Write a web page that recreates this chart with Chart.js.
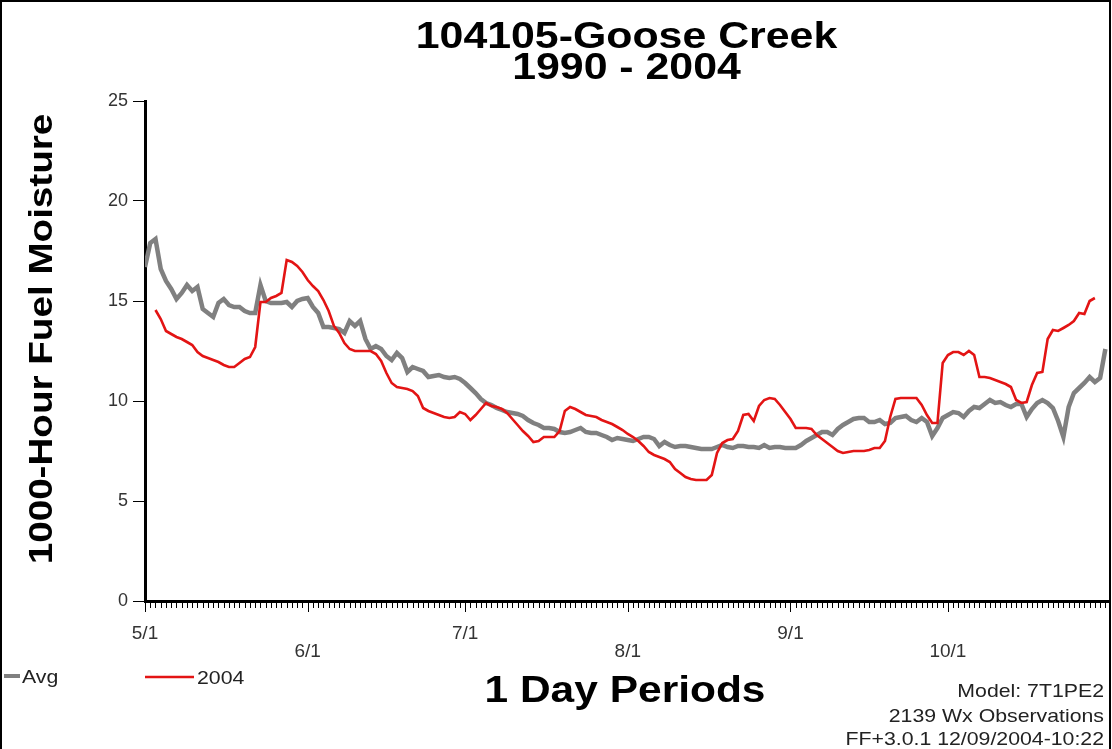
<!DOCTYPE html>
<html>
<head>
<meta charset="utf-8">
<script src="https://cdn.jsdelivr.net/npm/chart.js@4.4.1/dist/chart.umd.min.js"></script>
<style>
  html, body { margin: 0; padding: 0; background: #fff; }
  #wrap { width: 1112px; height: 749px; position: relative; }
  canvas { display: block; }
</style>
</head>
<body>
<div id="wrap"><canvas id="c" width="1112" height="749"></canvas></div>
<script>
// ---- Data (day index 0 = 5/1) ----
const titleLines = ['104105-Goose Creek', '1990 - 2004'];
const yAxisTitle = '1000-Hour Fuel Moisture';
const xAxisTitle = '1 Day Periods';
const footnotes = ['Model: 7T1PE2', '2139 Wx Observations', 'FF+3.0.1 12/09/2004-10:22'];
const seriesNames = ['Avg', '2004'];

const monthTickDays = [0, 31, 61, 92, 123, 153];
const monthTickLabels = ['5/1', '6/1', '7/1', '8/1', '9/1', '10/1'];
const yTickValues = [0, 5, 10, 15, 20, 25];

const avgValues = [
  16.7, 17.9, 18.1, 16.6, 16.0, 15.6, 15.1, 15.4, 15.8, 15.5,
  15.7, 14.6, 14.4, 14.2, 14.9, 15.1, 14.8, 14.7, 14.7, 14.5,
  14.4, 14.4, 15.8, 15.0, 14.9, 14.9, 14.9, 14.95, 14.7, 15.0,
  15.1, 15.15, 14.7, 14.4, 13.7, 13.7, 13.65, 13.6, 13.4, 14.0,
  13.75, 14.0, 13.1, 12.6, 12.75, 12.6, 12.25, 12.05, 12.4, 12.15,
  11.45, 11.7, 11.6, 11.5, 11.2, 11.25, 11.3, 11.2, 11.15, 11.2,
  11.1, 10.9, 10.65, 10.4, 10.1, 9.9, 9.8, 9.65, 9.55, 9.45,
  9.4, 9.35, 9.25, 9.05, 8.9, 8.8, 8.65, 8.65, 8.6, 8.45,
  8.4, 8.45, 8.55, 8.65, 8.45, 8.4, 8.4, 8.3, 8.2, 8.05,
  8.15, 8.1, 8.05, 8.0, 8.1, 8.2, 8.2, 8.1, 7.75, 7.95,
  7.8, 7.7, 7.75, 7.75, 7.7, 7.65, 7.6, 7.6, 7.6, 7.7,
  7.8, 7.7, 7.65, 7.75, 7.75, 7.7, 7.7, 7.65, 7.8, 7.65,
  7.7, 7.7, 7.65, 7.65, 7.65, 7.8, 8.0, 8.15, 8.3, 8.45,
  8.45, 8.3, 8.6, 8.8, 8.95, 9.1, 9.15, 9.15, 8.95, 8.95,
  9.05, 8.85, 8.9, 9.15, 9.2, 9.25, 9.05, 8.95, 9.15, 8.95,
  8.25, 8.65, 9.15, 9.3, 9.45, 9.4, 9.2, 9.5, 9.7, 9.65,
  9.85, 10.05, 9.9, 9.95, 9.8, 9.7, 9.85, 9.85, 9.2, 9.6,
  9.9, 10.05, 9.9, 9.65, 9.0, 8.2, 9.7, 10.4, 10.65, 10.9,
  11.2, 10.95, 11.15, 12.6
];

const y2004Values = [
  null, null, 14.55, 14.1, 13.5, 13.35, 13.2, 13.1, 12.95, 12.8,
  12.45, 12.25, 12.15, 12.05, 11.95, 11.8, 11.7, 11.7, 11.9, 12.1,
  12.2, 12.7, 14.95, 14.95, 15.15, 15.25, 15.4, 17.05, 16.95, 16.75,
  16.45, 16.05, 15.75, 15.5, 15.05, 14.5, 13.75, 13.4, 12.9, 12.6,
  12.5, 12.5, 12.5, 12.5, 12.35, 12.0, 11.4, 10.9, 10.7, 10.65,
  10.6, 10.5, 10.25, 9.65, 9.5, 9.4, 9.3, 9.2, 9.15, 9.2,
  9.45, 9.35, 9.05, 9.3, 9.6, 9.9, 9.75, 9.7, 9.6, 9.4,
  9.1, 8.8, 8.5, 8.25, 7.95, 8.0, 8.2, 8.2, 8.2, 8.5,
  9.5, 9.7, 9.6, 9.45, 9.3, 9.25, 9.2, 9.05, 8.95, 8.85,
  8.7, 8.55, 8.35, 8.2, 8.0, 7.75, 7.45, 7.3, 7.2, 7.1,
  6.95, 6.6, 6.4, 6.2, 6.1, 6.05, 6.05, 6.05, 6.3, 7.4,
  7.9, 8.05, 8.1, 8.5, 9.3, 9.35, 9.0, 9.75, 10.05, 10.15,
  10.1, 9.8, 9.45, 9.1, 8.65, 8.65, 8.65, 8.6, 8.3, 8.1,
  7.9, 7.7, 7.5, 7.4, 7.45, 7.5, 7.5, 7.5, 7.55, 7.65,
  7.65, 8.0, 9.2, 10.1, 10.15, 10.15, 10.15, 10.15, 9.8, 9.3,
  8.9, 8.9, 11.9, 12.3, 12.45, 12.45, 12.3, 12.5, 12.3, 11.2,
  11.2, 11.15, 11.05, 10.95, 10.85, 10.7, 10.05, 9.9, 9.95, 10.8,
  11.4, 11.45, 13.1, 13.55, 13.5, 13.65, 13.8, 14.0, 14.4, 14.35,
  15.0, 15.15
];

const avgColor = '#808080';
const redColor = '#e31414';
const FONT = '"Liberation Sans", Arial, sans-serif';

function toPoints(arr) {
  const out = [];
  arr.forEach((v, i) => { if (v !== null) out.push({ x: i, y: v }); });
  return out;
}

function stretchedText(ctx, text, x, y, font, align, sx, color, rot) {
  ctx.save();
  ctx.font = font;
  ctx.fillStyle = color || '#000';
  ctx.textAlign = align;
  ctx.textBaseline = 'alphabetic';
  ctx.translate(x, y);
  if (rot) ctx.rotate(rot);
  ctx.scale(sx, 1);
  ctx.fillText(text, 0, 0);
  ctx.restore();
}

const decor = {
  id: 'decor',
  afterDraw(chart) {
    const ctx = chart.ctx;
    const xs = chart.scales.x;
    const area = chart.chartArea;
    // day ticks
    ctx.save();
    ctx.strokeStyle = '#000';
    ctx.lineWidth = 1;
    for (let d = 0; d <= 183; d++) {
      const px = Math.round(xs.getPixelForValue(d)) + 0.5;
      const len = monthTickDays.includes(d) ? 11 : 7;
      ctx.beginPath();
      ctx.moveTo(px, area.bottom);
      ctx.lineTo(px, area.bottom + len);
      ctx.stroke();
    }
    ctx.restore();

    const cx = (area.left + area.right) / 2;
    // title (baselines)
    stretchedText(ctx, titleLines[0], cx, 48, 'bold 36px ' + FONT, 'center', 1.19, '#000');
    stretchedText(ctx, titleLines[1], cx, 79, 'bold 36px ' + FONT, 'center', 1.19, '#000');
    // y axis title (rotated, baseline at right side)
    stretchedText(ctx, yAxisTitle, 52, 339, 'bold 33px ' + FONT, 'center', 1.17, '#000', -Math.PI / 2);
    // x axis title
    stretchedText(ctx, xAxisTitle, 625, 702, 'bold 36px ' + FONT, 'center', 1.18, '#000');

    // legend
    ctx.save();
    ctx.lineCap = 'butt';
    ctx.strokeStyle = avgColor; ctx.lineWidth = 4;
    ctx.beginPath(); ctx.moveTo(4, 676); ctx.lineTo(20, 676); ctx.stroke();
    ctx.strokeStyle = redColor; ctx.lineWidth = 2.5;
    ctx.beginPath(); ctx.moveTo(145, 677); ctx.lineTo(194, 677); ctx.stroke();
    ctx.restore();
    stretchedText(ctx, seriesNames[0], 22, 683, '19px ' + FONT, 'left', 1.12, '#222');
    stretchedText(ctx, seriesNames[1], 197, 684, '19px ' + FONT, 'left', 1.12, '#222');

    // footnotes
    stretchedText(ctx, footnotes[0], 1104, 697, '19px ' + FONT, 'right', 1.12, '#222');
    stretchedText(ctx, footnotes[1], 1104, 722, '19px ' + FONT, 'right', 1.12, '#222');
    stretchedText(ctx, footnotes[2], 1104, 745, '19px ' + FONT, 'right', 1.12, '#222');

    // frame
    ctx.save();
    ctx.strokeStyle = '#000';
    ctx.lineWidth = 2;
    ctx.strokeRect(1, 1, 1109, 800);
    ctx.restore();
  }
};

new Chart(document.getElementById('c'), {
  type: 'line',
  data: {
    datasets: [
      {
        label: seriesNames[0],
        data: toPoints(avgValues),
        borderColor: avgColor,
        backgroundColor: avgColor,
        borderWidth: 4.5,
        pointRadius: 0,
        tension: 0,
        order: 1
      },
      {
        label: seriesNames[1],
        data: toPoints(y2004Values),
        borderColor: redColor,
        backgroundColor: redColor,
        borderWidth: 2.6,
        pointRadius: 0,
        tension: 0,
        order: 0
      }
    ]
  },
  options: {
    responsive: false,
    animation: false,
    layout: { padding: { left: 0, top: 101, right: 4, bottom: 88 } },
    plugins: {
      legend: { display: false },
      title: { display: false },
      tooltip: { enabled: false }
    },
    scales: {
      x: {
        type: 'linear',
        min: 0,
        max: 183.5,
        afterBuildTicks: (scale) => { scale.ticks = monthTickDays.map(v => ({ value: v })); },
        afterFit: (scale) => { scale.height = 60; },
        grid: { display: true, drawOnChartArea: false, drawTicks: false },
        border: { display: true, color: '#000', width: 3 },
        ticks: {
          autoSkip: false,
          maxRotation: 0,
          padding: 24,
          color: '#333',
          font: { family: FONT, size: 19, lineHeight: 0.95 },
          callback: (value) => {
            const i = monthTickDays.indexOf(value);
            if (i < 0) return '';
            return i % 2 === 0 ? monthTickLabels[i] : ['', monthTickLabels[i]];
          }
        }
      },
      y: {
        min: 0,
        max: 25,
        afterBuildTicks: (scale) => { scale.ticks = yTickValues.map(v => ({ value: v })); },
        afterFit: (scale) => { scale.width = 145; },
        grid: { display: true, drawOnChartArea: false, drawTicks: true, tickLength: 12, color: '#000', lineWidth: 1 },
        border: { display: true, color: '#000', width: 3 },
        ticks: {
          padding: 5,
          color: '#333',
          font: { family: FONT, size: 18 }
        }
      }
    }
  },
  plugins: [decor]
});
</script>
</body>
</html>
